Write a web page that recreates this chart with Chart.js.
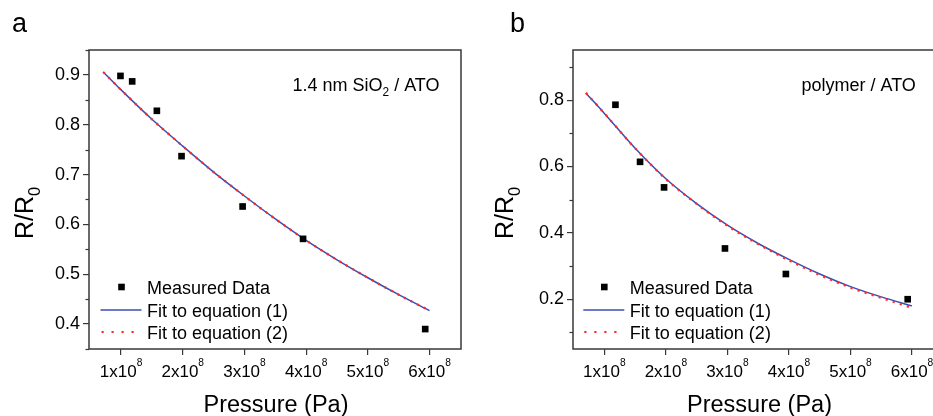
<!DOCTYPE html>
<html><head><meta charset="utf-8">
<script src="https://cdn.jsdelivr.net/npm/chart.js@4"></script>
<style>
html,body{margin:0;padding:0;background:#fff;overflow:hidden;width:933px;height:416px;}
#wrap{position:relative;width:933px;height:416px;overflow:hidden;background:#fff;}
canvas{position:absolute;top:0;}
#ca{left:0;} #cb{left:470px;}
</style></head><body>
<div id="wrap"><canvas id="ca" width="470" height="416"></canvas><canvas id="cb" width="485" height="416"></canvas></div>
<script>
// ---- data (pressure in Pa, ratio R/R0) ----
const pressureA = [0.99e8, 1.18e8, 1.58e8, 1.98e8, 2.97e8, 3.95e8, 5.93e8];
const ratioA    = [0.898, 0.887, 0.828, 0.737, 0.636, 0.571, 0.390];
const fitPressureA = [0.71e8, 1.0e8, 1.5e8, 2.0e8, 2.5e8, 3.0e8, 3.5e8, 4.0e8, 4.5e8, 5.0e8, 5.5e8, 6.0e8];
const fit1A = [0.906, 0.870, 0.811, 0.757, 0.705, 0.657, 0.611, 0.568, 0.529, 0.493, 0.459, 0.427];
const fit2A = [0.906, 0.870, 0.811, 0.757, 0.705, 0.657, 0.611, 0.568, 0.529, 0.493, 0.459, 0.427];

const pressureB = [1.18e8, 1.58e8, 1.97e8, 2.96e8, 3.95e8, 5.93e8];
const ratioB    = [0.786, 0.614, 0.537, 0.353, 0.276, 0.200];
const fitPressureB = [0.70e8, 1.0e8, 1.5e8, 2.0e8, 2.5e8, 3.0e8, 3.5e8, 4.0e8, 4.5e8, 5.0e8, 5.5e8, 6.0e8];
const fit1B = [0.821, 0.760, 0.655, 0.563, 0.488, 0.423, 0.368, 0.320, 0.276, 0.238, 0.207, 0.180];
const fit2B = [0.822, 0.760, 0.655, 0.562, 0.487, 0.421, 0.366, 0.317, 0.273, 0.235, 0.204, 0.174];

const xTicks     = [1e8, 2e8, 3e8, 4e8, 5e8, 6e8];
const xTickBase  = ['1x10', '2x10', '3x10', '4x10', '5x10', '6x10'];
const xTickPower = ['8', '8', '8', '8', '8', '8'];
const yTicksA = [0.4, 0.5, 0.6, 0.7, 0.8, 0.9];
const yMinorA = [0.35, 0.45, 0.55, 0.65, 0.75, 0.85, 0.95];
const yTicksB = [0.2, 0.4, 0.6, 0.8];
const yMinorB = [0.1, 0.3, 0.5, 0.7, 0.9];
const legendLabels = ['Measured Data', 'Fit to equation (1)', 'Fit to equation (2)'];

const FONT = "'Liberation Sans', Arial, sans-serif";
const INK = '#000';
const FRAME = '#383838';
const BLUE = '#3a4db3';
const RED = '#ff2a2a';

function pts(xs, ys){ return xs.map((x,i)=>({x:x, y:ys[i]})); }

function drawRuns(ctx, x, y, runs, size){
  let cx = x;
  runs.forEach(r=>{
    let fs = size, dy = 0;
    if (r.s === 'sub'){ fs = size*0.66; dy = size*0.28; }
    if (r.s === 'sup'){ fs = size*0.6; dy = -size*0.62; }
    ctx.font = fs + 'px ' + FONT;
    ctx.fillText(r.t, cx, y + dy);
    cx += ctx.measureText(r.t).width;
  });
  return cx - x;
}
function measureRuns(ctx, runs, size){
  let w = 0;
  runs.forEach(r=>{
    const fs = r.s ? size*(r.s==='sub'?0.66:0.6) : size;
    ctx.font = fs + 'px ' + FONT;
    w += ctx.measureText(r.t).width;
  });
  return w;
}

function makeChart(id, cfg){
  const decor = {
    id: 'decor_' + id,
    afterDraw(chart){
      const ctx = chart.ctx, a = chart.chartArea;
      const sy = chart.scales.y, sx = chart.scales.x;
      ctx.save();
      // frame
      ctx.strokeStyle = FRAME; ctx.lineWidth = 1.5;
      ctx.strokeRect(a.left, a.top, a.right - a.left, a.bottom - a.top);
      // minor y ticks
      ctx.lineWidth = 1.2;
      cfg.yMinor.forEach(v=>{
        const p = Math.round(sy.getPixelForValue(v)) + 0.5;
        ctx.beginPath(); ctx.moveTo(a.left - 3.5, p); ctx.lineTo(a.left, p); ctx.stroke();
      });
      ctx.fillStyle = INK;
      ctx.textBaseline = 'alphabetic';
      ctx.textAlign = 'left';
      // x tick labels with superscript power
      xTicks.forEach((v,i)=>{
        const runs = [{t:xTickBase[i]},{t:xTickPower[i], s:'sup'}];
        const w = measureRuns(ctx, runs, 17);
        const px = sx.getPixelForValue(v);
        drawRuns(ctx, px - w/2, 377, runs, 17);
      });
      // panel letter
      ctx.font = '27px ' + FONT;
      ctx.fillText(cfg.letter, cfg.letterX, 31.5);
      // annotation
      drawRuns(ctx, cfg.annX, 91, cfg.annRuns, 18);
      // x title
      ctx.font = '23.5px ' + FONT;
      ctx.textAlign = 'center';
      ctx.fillText('Pressure (Pa)', (a.left + a.right)/2 + 1, 411.5);
      // y title rotated
      ctx.save();
      ctx.translate(cfg.yTitleX, 239);
      ctx.rotate(-Math.PI/2);
      ctx.textAlign = 'left';
      drawRuns(ctx, 0, 0, [{t:'R/R'},{t:'0', s:'sub'}], 25);
      ctx.restore();
      // legend
      const lx = cfg.legX, rows = [287, 310, 332];
      ctx.textAlign = 'left';
      ctx.fillStyle = '#000';
      ctx.fillRect(lx + 21 - 3.3, rows[0] - 3.3, 6.6, 6.6);
      ctx.strokeStyle = BLUE; ctx.lineWidth = 1.5;
      ctx.beginPath(); ctx.moveTo(lx, rows[1]); ctx.lineTo(lx + 41, rows[1]); ctx.stroke();
      ctx.strokeStyle = RED; ctx.lineWidth = 2.2; ctx.setLineDash([2.2, 7.8]);
      ctx.beginPath(); ctx.moveTo(lx + 1, rows[2]); ctx.lineTo(lx + 41, rows[2]); ctx.stroke();
      ctx.setLineDash([]);
      ctx.fillStyle = INK;
      ctx.font = '18px ' + FONT;
      legendLabels.forEach((t,i)=>{ ctx.fillText(t, lx + 46.5, rows[i] + 6.5); });
      ctx.restore();
    }
  };
  return new Chart(document.getElementById(id), {
    type: 'line',
    data: {
      datasets: [
        { label: legendLabels[0], data: pts(cfg.px, cfg.py), showLine: false,
          pointStyle: 'rect', pointRadius: 4.7, pointHoverRadius: 4.7,
          backgroundColor: '#000', borderColor: '#000', borderWidth: 0, order: 0 },
        { label: legendLabels[2], data: pts(cfg.fx, cfg.f2), borderColor: RED, borderWidth: 2.2,
          borderDash: [2.2, 5.2], pointRadius: 0, cubicInterpolationMode: 'monotone', fill: false, order: 1 },
        { label: legendLabels[1], data: pts(cfg.fx, cfg.f1), borderColor: BLUE, borderWidth: 1.5,
          pointRadius: 0, cubicInterpolationMode: 'monotone', fill: false, order: 2 }
      ]
    },
    options: {
      responsive: false, animation: false, devicePixelRatio: 1,
      layout: { padding: { left: 0, top: 50, right: cfg.padRight, bottom: 0 } },
      plugins: { legend: { display: false }, tooltip: { enabled: false } },
      events: [],
      scales: {
        x: {
          type: 'linear', min: cfg.xMin, max: cfg.xMax,
          afterBuildTicks: s => { s.ticks = xTicks.map(v=>({value:v})); },
          afterFit: s => { s.height = 67; },
          grid: { display: true, drawOnChartArea: false, drawTicks: true, tickLength: 6, color: FRAME, lineWidth: 1.2 },
          border: { display: false },
          ticks: { display: false }
        },
        y: {
          type: 'linear', min: cfg.yMin, max: cfg.yMax,
          afterBuildTicks: s => { s.ticks = cfg.yTicks.map(v=>({value:v})); },
          afterFit: s => { s.width = cfg.yWidth; },
          grid: { display: true, drawOnChartArea: false, drawTicks: true, tickLength: 6, color: FRAME, lineWidth: 1.2 },
          border: { display: false },
          ticks: { color: INK, font: { family: FONT, size: 18 }, padding: 3, autoSkip: false,
                   callback: v => v.toFixed(1) }
        }
      }
    },
    plugins: [decor]
  });
}

makeChart('ca', {
  px: pressureA, py: ratioA, fx: fitPressureA, f1: fit1A, f2: fit2A,
  xMin: 0.48e8, xMax: 6.51e8, yMin: 0.35, yMax: 0.95,
  yTicks: yTicksA, yMinor: yMinorA, yWidth: 89, padRight: 9,
  letter: 'a', letterX: 12, yTitleX: 33,
  annX: 292.5, annRuns: [{t:'1.4 nm SiO'},{t:'2', s:'sub'},{t:' / ATO'}],
  legX: 100.5
});
makeChart('cb', {
  px: pressureB, py: ratioB, fx: fitPressureB, f1: fit1B, f2: fit2B,
  xMin: 0.49e8, xMax: 6.52e8, yMin: 0.05, yMax: 0.951,
  yTicks: yTicksB, yMinor: yMinorB, yWidth: 103, padRight: 11,
  letter: 'b', letterX: 40, yTitleX: 43,
  annX: 331.5, annRuns: [{t:'polymer / ATO'}],
  legX: 113.3
});
</script>
</body></html>
